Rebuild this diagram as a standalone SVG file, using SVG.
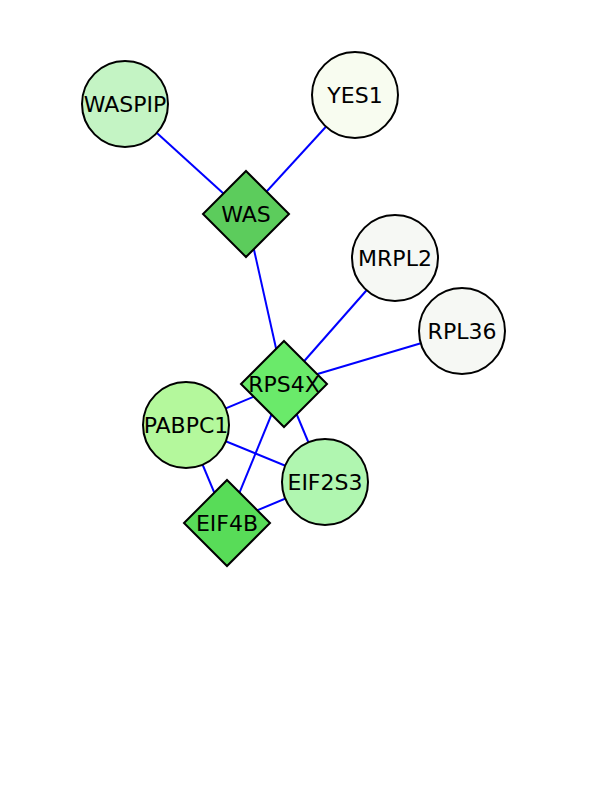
<svg xmlns="http://www.w3.org/2000/svg" width="612" height="792" viewBox="0 0 612 792">
<style>
.e{stroke:#0000ff;stroke-width:2;fill:none}
.n{stroke:#000;stroke-width:2}
text{font-family:"DejaVu Sans","Liberation Sans",sans-serif;font-size:22px;fill:#000;text-anchor:middle;dominant-baseline:central}
</style>
<rect width="612" height="792" fill="#fff"/>
<g id="edges">
<line class="e" x1="125" y1="104" x2="246" y2="214"/>
<line class="e" x1="355" y1="95" x2="246" y2="214"/>
<line class="e" x1="246" y1="214" x2="284" y2="384"/>
<line class="e" x1="395" y1="258" x2="284" y2="384"/>
<line class="e" x1="462" y1="331" x2="284" y2="384"/>
<line class="e" x1="284" y1="384" x2="186" y2="425"/>
<line class="e" x1="284" y1="384" x2="325" y2="482"/>
<line class="e" x1="284" y1="384" x2="227" y2="523"/>
<line class="e" x1="186" y1="425" x2="325" y2="482"/>
<line class="e" x1="186" y1="425" x2="227" y2="523"/>
<line class="e" x1="325" y1="482" x2="227" y2="523"/>
</g>
<g id="WASPIP"><circle class="n" cx="125" cy="104" r="43" fill="#c4f4c4"/><text x="125" y="104">WASPIP</text></g>
<g id="YES1"><circle class="n" cx="355" cy="95" r="43" fill="#f8fcf0"/><text x="355" y="95">YES1</text></g>
<g id="WAS"><polygon class="n" points="246,171 289,214 246,257 203,214" fill="#5ccc5c"/><text x="246" y="214">WAS</text></g>
<g id="MRPL2"><circle class="n" cx="395" cy="258" r="43" fill="#f6f8f4"/><text x="395" y="258">MRPL2</text></g>
<g id="RPL36"><circle class="n" cx="462" cy="331" r="43" fill="#f6f8f4"/><text x="462" y="331">RPL36</text></g>
<g id="RPS4X"><polygon class="n" points="284,341 327,384 284,427 241,384" fill="#6aea6a"/><text x="284" y="384">RPS4X</text></g>
<g id="PABPC1"><circle class="n" cx="186" cy="425" r="43" fill="#b4f89c"/><text x="186" y="425">PABPC1</text></g>
<g id="EIF2S3"><circle class="n" cx="325" cy="482" r="43" fill="#b0f6b0"/><text x="325" y="482">EIF2S3</text></g>
<g id="EIF4B"><polygon class="n" points="227,480 270,523 227,566 184,523" fill="#58dc58"/><text x="227" y="523">EIF4B</text></g>
</svg>
